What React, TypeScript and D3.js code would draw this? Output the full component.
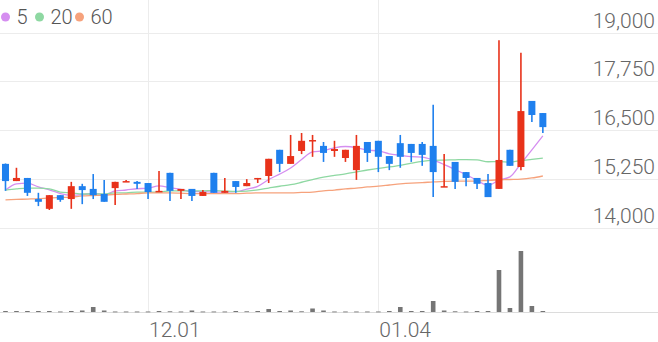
import React from "react";
import * as d3 from "d3";

const dates = ["11.14","11.15","11.16","11.17","11.20","11.21","11.22","11.23","11.24","11.27","11.28","11.29","11.30","12.01","12.04","12.05","12.06","12.07","12.08","12.11","12.12","12.13","12.14","12.15","12.18","12.19","12.20","12.21","12.22","12.26","12.27","12.28","01.02","01.03","01.04","01.05","01.08","01.09","01.10","01.11","01.12","01.15","01.16","01.17","01.18","01.19","01.22","01.23","01.24","01.25"];

const openP = [15640,15200,15280,14740,14490,14840,14740,15070,15000,14870,15020,15180,15180,15150,14920,15410,14950,15000,14820,15410,14900,15200,15070,15250,15330,16000,15640,15970,16230,16100,15970,15790,15480,16200,16230,15840,16170,16150,16150,16100,15050,15690,15430,15280,15150,15000,16000,15560,17250,16940];
const highP = [15650,15540,15280,14900,14840,14840,15180,15130,15380,15230,15180,15230,15200,15150,15460,15410,15000,15000,14970,15410,15280,15200,15250,15280,15770,16000,16380,16430,16380,16200,16230,16000,16380,16200,16230,15840,16380,16150,16200,17150,15890,15690,15430,15280,15380,18800,16000,18480,17250,16940];
const lowP = [14950,15200,14820,14560,14460,14670,14490,14610,14740,14670,14590,15180,15000,14740,14920,14690,14740,14690,14820,14900,14900,14900,15070,15150,15150,15430,15640,15890,15820,15690,15820,15690,15230,15690,15430,15480,15540,15690,15590,14790,15050,15000,15070,15000,14790,15000,15590,15480,16710,16430];
const closeP = [15200,15280,14900,14670,14840,14720,15070,14970,14840,14670,15180,15200,15130,14920,14950,14950,15000,14820,14920,14900,14950,15050,15150,15280,15770,15640,15840,16230,16250,15920,16020,16000,16100,15920,15820,15640,15820,15920,15870,15430,15070,15180,15280,15130,14790,15740,15590,16990,16890,16580];

const volumes = [50000,50000,50000,50000,50000,25000,50000,75000,250000,75000,25000,25000,25000,25000,50000,35000,25000,75000,25000,25000,25000,50000,35000,50000,150000,50000,75000,35000,175000,75000,25000,25000,25000,25000,25000,50000,250000,50000,50000,550000,75000,35000,25000,50000,50000,2100000,200000,3050000,300000,50000];

const ma5 = [14970,15130,15150,15050,14978,14882,14840,14854,14888,14854,14946,14972,15004,15020,15076,15030,14990,14928,14928,14918,14918,14928,14994,15066,15240,15378,15536,15752,15946,15976,16052,16084,16058,15992,15972,15896,15860,15824,15814,15736,15622,15494,15366,15218,15090,15224,15306,15648,16000,16358];
const ma20 = [14970,15000,15020,15020,15000,14920,14900,14870,14870,14870,14900,14900,14920,14920,14920,14950,14950,14950,14950,14957,14944,14933,14945,14976,15022,15068,15107,15170,15240,15303,15345,15385,15433,15483,15527,15561,15602,15657,15705,15731,15737,15744,15750,15743,15694,15699,15686,15724,15756,15789];
const ma60 = [14720,14730,14740,14750,14770,14780,14790,14820,14830,14840,14860,14870,14880,14900,14900,14900,14890,14880,14880,14880,14880,14880,14890,14900,14900,14900,14900,14910,14920,14950,14970,15000,15020,15050,15070,15100,15130,15150,15160,15180,15190,15200,15200,15200,15220,15230,15240,15250,15280,15330];

const priceTicks = [14000, 15250, 16500, 17750, 19000];
const xTickLabels = ["12.01", "01.04"];
const legendLabels = ["5", "20", "60"];
const SLOTS = 60;

const W = 658, H = 342;
const UP = "#e8321a";
const DOWN = "#1f80ee";
const MA_COLORS = ["#d58ef0", "#8ed8a2", "#f6a27c"];

export default function App() {
  const slots = d3.range(SLOTS);
  const x = d3.scaleBand<number>().domain(slots).range([0, W]).padding(0);
  const cx = (i: number) => (x(i) as number) + x.bandwidth() / 2;
  const y = d3.scaleLinear().domain([14000, 19000]).range([228, 32.5]);
  const yv = d3.scaleLinear().domain([0, d3.max(volumes) as number]).range([312, 251]);

  const line = d3.line<number>().x((_, i) => cx(i)).y((d) => y(d)).curve(d3.curveMonotoneX);
  const mas = [ma5, ma20, ma60];

  const bodyW = 7;
  const volW = 4.6;

  return (
    <svg width={W} height={H} style={{ position: "absolute", left: 0, top: 0, background: "#fff" }}
      fontFamily="Roboto, 'Noto Sans', sans-serif">
      {priceTicks.map((t) => (
        <line key={"g" + t} x1={0} x2={W} y1={Math.round(y(t)) + 0.5} y2={Math.round(y(t)) + 0.5} stroke="#ececec" strokeWidth={1} />
      ))}
      {xTickLabels.map((lab) => {
        const i = dates.indexOf(lab);
        const xx = Math.round(cx(i)) + 0.5;
        return <line key={"v" + lab} x1={xx} x2={xx} y1={0} y2={312} stroke="#ececec" strokeWidth={1} />;
      })}
      <line x1={0} x2={W} y1={312.5} y2={312.5} stroke="#dcdcdc" strokeWidth={1} />
      {priceTicks.map((t) => (
        <text key={"yl" + t} x={655} y={y(t) - 5} textAnchor="end" fontSize={21} fontWeight={300} fill="#666">
          {d3.format(",")(t)}
        </text>
      ))}
      {xTickLabels.map((lab) => {
        const i = dates.indexOf(lab);
        return (
          <text key={"xl" + lab} x={cx(i) + 1} y={337} textAnchor="start" fontSize={21} fontWeight={300} fill="#666">
            {lab}
          </text>
        );
      })}
      {volumes.map((v, i) => (
        <rect key={"vb" + i} x={cx(i) - volW / 2} y={yv(v)} width={volW} height={Math.max(312 - yv(v), 0.8)} fill="#757575" />
      ))}
      {mas.map((m, k) => (
        <path key={"ma" + k} d={line(m) as string} fill="none" stroke={MA_COLORS[k]} strokeWidth={1.3} />
      ))}
      {closeP.map((c, i) => {
        const o = openP[i];
        const up = c >= o;
        const col = up ? UP : DOWN;
        const top = y(Math.max(o, c));
        const bot = y(Math.min(o, c));
        return (
          <g key={"c" + i}>
            <line x1={cx(i)} x2={cx(i)} y1={y(highP[i])} y2={y(lowP[i])} stroke={col} strokeWidth={1.6} />
            <rect x={cx(i) - bodyW / 2} y={top} width={bodyW} height={Math.max(bot - top, 1.5)} fill={col} />
          </g>
        );
      })}
      {legendLabels.map((lab, k) => {
        const pos = [5.5, 39.5, 79.5][k];
        return (
          <g key={"lg" + k}>
            <circle cx={pos} cy={17} r={4.5} fill={MA_COLORS[k]} />
            <text x={pos + 11} y={24} fontSize={20} fontWeight={300} fill="#555">{lab}</text>
          </g>
        );
      })}
    </svg>
  );
}
